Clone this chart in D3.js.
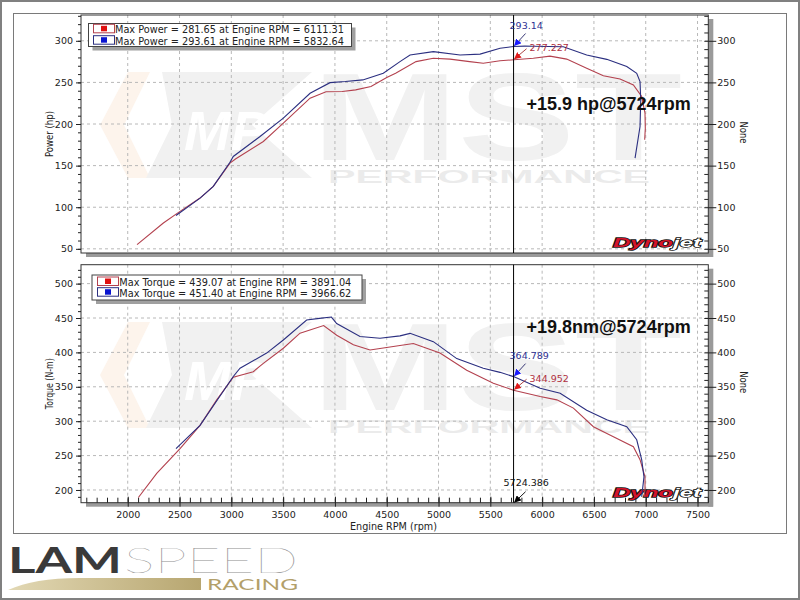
<!DOCTYPE html>
<html><head><meta charset="utf-8">
<script src="https://cdn.jsdelivr.net/npm/d3@7"></script>
<style>body{margin:0;background:#fff}svg{display:block}</style>
</head><body><svg id="c" width="800" height="600"></svg>
<script>
// ---------- data ----------
const rpmTicks = [2000,2500,3000,3500,4000,4500,5000,5500,6000,6500,7000,7500];
const powerTicks = [50,100,150,200,250,300];
const torqueTicks = [200,250,300,350,400,450,500];

const powerRun1 = [[2090,55],[2344,81],[2505,95],[2698,111],[2826,125],[2987,153],[3040,158],[3309,179],[3502,201],[3760,231],[3914,238.8],[4071,239],[4200,241],[4348,245],[4500,256],[4586,261],[4783,275],[4950,279],[5111,278],[5300,275],[5432,273],[5594,276],[5729,277.2],[5915,279],[6076,281.6],[6237,278],[6430,267],[6591,258],[6752,254],[6881,247],[6961,233],[6993,213],[6996,195],[6990,181]];
const powerRun2 = [[2466,90],[2698,111],[2826,125],[2987,154],[3019,161],[3277,185],[3502,207],[3760,237],[3953,249.7],[4100,251],[4269,253],[4467,261],[4628,275],[4725,283],[4950,287],[5208,283],[5401,284],[5594,291],[5724,293.1],[5832,293.6],[5915,293.5],[6205,292.8],[6430,283],[6624,277.7],[6817,269],[6913,261],[6945,251],[6952,229],[6945,197],[6897,159]];
const torqueRun1 = [[2103,189],[2280,224],[2505,260],[2698,294],[2859,331],[3019,364],[3212,372],[3309,384],[3502,406],[3663,428],[3891,439.1],[4017,425],[4178,411],[4339,403.5],[4628,410],[4757,413],[5014,399],[5272,374],[5529,355],[5724,345],[5981,336],[6142,331],[6302,319],[6495,292],[6688,277.5],[6881,263],[6945,244],[6993,219],[6993,200],[6985,190]];
const torqueRun2 = [[2466,260],[2698,294],[3019,365],[3084,377],[3341,399],[3502,418],[3727,447],[3850,449.5],[3966,451.4],[4017,442],[4242,423],[4435,420.5],[4628,424],[4725,427.7],[4950,415.6],[5176,391],[5432,377],[5594,371],[5724,364.8],[5981,348],[6174,340.5],[6430,316],[6624,302],[6817,292],[6913,273],[6961,244],[6983,219],[6961,190]];

const powerLegend = ["Max Power = 281.65 at Engine RPM = 6111.31","Max Power = 293.61 at Engine RPM = 5832.64"];
const torqueLegend = ["Max Torque = 439.07 at Engine RPM = 3891.04","Max Torque = 451.40 at Engine RPM = 3966.62"];
const cursorRpm = 5724.386;
const powerCursor = [277.227, 293.14];   // run1, run2
const torqueCursor = [344.952, 364.789];
const powerGain = "+15.9 hp@5724rpm";
const torqueGain = "+19.8nm@5724rpm";

// ---------- styles / layout ----------
const runColors = ["#b3414e","#2b2f80"];
const swatchFill = ["#e01010","#0a14d0"];
const arrowHead = ["#e01a1a","#1a1aff"];
const FONT = "DejaVu Sans, Verdana, sans-serif";

const svg = d3.select("#c");
svg.append("rect").attr("x",1).attr("y",1).attr("width",798).attr("height",598).attr("fill","#fff").attr("stroke","#808080").attr("stroke-width",2);
svg.append("rect").attr("x",13.5).attr("y",13.5).attr("width",773).attr("height",520).attr("fill","none").attr("stroke","#7a7a7a");

const defs = svg.append("defs");
["r","b","k"].forEach((id,i)=>{
  defs.append("marker").attr("id","ah"+id).attr("viewBox","0 0 10 10").attr("refX",9).attr("refY",5)
    .attr("markerWidth",7).attr("markerHeight",7).attr("orient","auto").attr("markerUnits","userSpaceOnUse")
    .append("path").attr("d","M0,0 L10,5 L0,10 Z").attr("fill",[arrowHead[0],arrowHead[1],"#000"][i]);
});
const grad = defs.append("linearGradient").attr("id","gold").attr("x1","0").attr("x2","1");
grad.append("stop").attr("offset","0").attr("stop-color","#e2d8b4");
grad.append("stop").attr("offset","1").attr("stop-color","#b7a670");

const x = d3.scaleLinear().domain([1549,7604]).range([81,708.3]);

const panels = [
  {top:15, bottom:253, domain:[45,331], ticks:powerTicks, runs:[powerRun1,powerRun2], title:"Power (hp)", titleLen:46,
   legend:powerLegend, L:{x:88.5,y:23.5,w:263,h:23,sx:93,tx:115,tl:229,b0:33.3,rh:11.4},
   cursor:powerCursor, gain:powerGain, gainY:109.5, xAxis:false, wm:0},
  {top:264.7, bottom:502.7, domain:[181.5,527.5], ticks:torqueTicks, runs:[torqueRun1,torqueRun2], title:"Torque (N-m)", titleLen:51,
   legend:torqueLegend, L:{x:92,y:275,w:270,h:25,sx:97,tx:119.3,tl:232,b0:286,rh:10.7},
   cursor:torqueCursor, gain:torqueGain, gainY:332.7, xAxis:true, wm:250}
];

function watermark(g, oy){
  const w = g.append("g").attr("transform",`translate(0,${oy})`);
  w.append("polygon").attr("points","128,72 150,72 124,125 150,178 128,178 100,125").attr("fill","#fdf4ec");
  w.append("polygon").attr("points","162,72 312,72 252,125 312,178 146,178 172,125").attr("fill","#f1f1f1");
  w.append("text").attr("x",184).attr("y",150).text("MP").attr("font-family","Liberation Sans").attr("font-weight","bold")
    .attr("font-style","italic").attr("font-size",56).attr("fill","#fff");
  w.append("text").attr("x",312).attr("y",160).attr("textLength",370).attr("lengthAdjust","spacingAndGlyphs").text("MST")
    .attr("font-family","Liberation Sans").attr("font-weight","bold").attr("font-size",125).attr("fill","#f1f1f1");
  w.append("text").attr("x",328).attr("y",183).attr("textLength",322).attr("lengthAdjust","spacingAndGlyphs").text("PERFORMANCE")
    .attr("font-family","Liberation Sans").attr("font-weight","bold").attr("font-size",19).attr("fill","#ebebeb");
}

function dynojet(g, xx, yb){
  const t = g.append("text").attr("x",xx).attr("y",yb).attr("font-family","Liberation Sans").attr("font-weight","bold")
    .attr("font-style","italic").attr("font-size",13).attr("textLength",88).attr("lengthAdjust","spacingAndGlyphs")
    .attr("stroke","#111").attr("stroke-width",1.4).attr("paint-order","stroke");
  t.append("tspan").text("Dyno").attr("fill","#d4142a");
  t.append("tspan").text("jet").attr("fill","#ffffff");
}

panels.forEach(p => {
  const y = d3.scaleLinear().domain(p.domain).range([p.bottom, p.top]);
  const g = svg.append("g");
  watermark(g, p.wm);

  // grid
  g.append("g").selectAll("line").data(rpmTicks).join("line")
    .attr("x1",d=>x(d)).attr("x2",d=>x(d)).attr("y1",p.top).attr("y2",p.bottom)
    .attr("stroke","#b8b8b8").attr("stroke-dasharray","3,3");
  g.append("g").selectAll("line").data(p.ticks).join("line")
    .attr("x1",81).attr("x2",708.3).attr("y1",d=>y(d)).attr("y2",d=>y(d))
    .attr("stroke","#b8b8b8").attr("stroke-dasharray","3,3");

  // shadows + frame
  g.append("rect").attr("x",708.3).attr("y",p.top+4).attr("width",5).attr("height",p.bottom-p.top).attr("fill","#9a9a9a");
  g.append("rect").attr("x",86).attr("y",p.bottom).attr("width",627).attr("height",4).attr("fill","#9a9a9a");
  g.append("rect").attr("x",81).attr("y",p.top).attr("width",627.3).attr("height",p.bottom-p.top)
    .attr("fill","none").attr("stroke","#333").attr("stroke-width",1);

  dynojet(g, 613, p.bottom-6);

  // axes
  const minor = d3.range(Math.ceil(p.domain[0]/10)*10, p.domain[1], 10);
  const styleAxis = a => { a.select(".domain").remove(); a.selectAll("text").attr("font-family",FONT).attr("font-size","9.5px").attr("fill","#222"); a.selectAll("line").attr("stroke","#222"); };
  const fmt = d3.format("d");
  g.append("g").attr("transform","translate(81,0)").call(d3.axisLeft(y).tickValues(minor).tickSize(3).tickFormat("")).call(styleAxis);
  g.append("g").attr("transform","translate(81,0)").call(d3.axisLeft(y).tickValues(p.ticks).tickSize(5).tickPadding(3).tickFormat(fmt)).call(styleAxis);
  g.append("g").attr("transform","translate(708.3,0)").call(d3.axisRight(y).tickValues(minor).tickSize(-4).tickFormat("")).call(styleAxis);
  g.append("g").attr("transform","translate(708.3,0)").call(d3.axisRight(y).tickValues(p.ticks).tickSize(8).tickPadding(1).tickFormat(fmt)).call(styleAxis);
  if (p.xAxis){
    const minX = d3.range(1600, 7601, 100);
    g.append("g").attr("transform",`translate(0,${p.bottom})`).call(d3.axisBottom(x).tickValues(minX).tickSize(-5).tickFormat("")).call(styleAxis);
    g.append("g").attr("transform",`translate(0,${p.bottom})`).call(d3.axisBottom(x).tickValues(rpmTicks).tickSize(-6).tickFormat("")).call(styleAxis);
    g.append("g").attr("transform",`translate(0,${p.bottom})`).call(d3.axisBottom(x).tickValues(rpmTicks).tickSize(4).tickPadding(4.6).tickFormat(fmt)).call(styleAxis);
  }

  // titles
  const cy = (p.top+p.bottom)/2;
  g.append("text").attr("transform",`translate(53,${cy}) rotate(-90)`).attr("text-anchor","middle")
    .attr("font-family",FONT).attr("font-size","10px").attr("fill","#222")
    .attr("textLength",p.titleLen).attr("lengthAdjust","spacingAndGlyphs").text(p.title);
  g.append("text").attr("transform",`translate(740,${cy-1.5}) rotate(90)`).attr("text-anchor","middle")
    .attr("font-family",FONT).attr("font-size","10px").attr("fill","#222")
    .attr("textLength",22).attr("lengthAdjust","spacingAndGlyphs").text("None");

  // curves
  const line = d3.line().x(d=>x(d[0])).y(d=>y(d[1]));
  p.runs.forEach((r,i)=>{
    g.append("path").datum(r).attr("d",line).attr("fill","none").attr("stroke",runColors[i]).attr("stroke-width",1.1);
  });

  // cursor
  const cx = x(cursorRpm);
  g.append("line").attr("x1",cx).attr("x2",cx).attr("y1",p.top).attr("y2",p.bottom).attr("stroke","#000").attr("stroke-width",1);

  // cursor annotations
  const labColors = ["#b03040","#2e3192"];
  p.cursor.forEach((v,i)=>{
    const py = y(v);
    if (i===1){
      g.append("line").attr("x1",cx+12).attr("y1",py-13).attr("x2",cx+1).attr("y2",py-1)
        .attr("stroke","#222266").attr("stroke-width",0.9).attr("marker-end","url(#ahb)");
      g.append("text").attr("x",cx-4).attr("y",py-17.2).text(String(v))
        .attr("font-family",FONT).attr("font-size","9.5px").attr("fill",labColors[i]);
    } else {
      g.append("line").attr("x1",cx+13).attr("y1",py-11).attr("x2",cx+1).attr("y2",py-1)
        .attr("stroke","#a03030").attr("stroke-width",0.9).attr("marker-end","url(#ahr)");
      g.append("text").attr("x",cx+16).attr("y",py-8.7).text(String(v))
        .attr("font-family",FONT).attr("font-size","9.5px").attr("fill",labColors[i]);
    }
  });
  if (p.xAxis){
    g.append("line").attr("x1",cx+12).attr("y1",p.bottom-11).attr("x2",cx+1).attr("y2",p.bottom-0.5)
      .attr("stroke","#000").attr("stroke-width",0.9).attr("marker-end","url(#ahk)");
    g.append("text").attr("x",cx-10).attr("y",p.bottom-16.7).text(String(cursorRpm))
      .attr("font-family",FONT).attr("font-size","9.5px").attr("fill","#111");
  }

  // gain
  g.append("text").attr("x",526.5).attr("y",p.gainY).text(p.gain)
    .attr("font-family","Liberation Sans, Arial, sans-serif").attr("font-weight","bold").attr("font-size","18px").attr("fill","#111");

  // legend
  const L = p.L;
  g.append("rect").attr("x",L.x+4).attr("y",L.y+4).attr("width",L.w).attr("height",L.h).attr("fill","#a0a0a0");
  g.append("rect").attr("x",L.x).attr("y",L.y).attr("width",L.w).attr("height",L.h).attr("fill","#fff").attr("stroke","#444");
  p.legend.forEach((t,i)=>{
    const yb = L.b0 + i*L.rh;
    g.append("rect").attr("x",L.sx+0.5).attr("y",yb-9).attr("width",21).attr("height",8.5).attr("fill","#fff").attr("stroke",runColors[i]);
    g.append("rect").attr("x",L.sx+8).attr("y",yb-7.5).attr("width",6).attr("height",5.5).attr("fill",swatchFill[i]);
    g.append("text").attr("x",L.tx).attr("y",yb).text(t).attr("font-family",FONT).attr("font-size","10.5px").attr("fill","#222")
      .attr("textLength",L.tl).attr("lengthAdjust","spacingAndGlyphs");
  });
});

// x axis title
svg.append("text").attr("x",393.5).attr("y",529.5).attr("text-anchor","middle").text("Engine RPM (rpm)")
  .attr("font-family",FONT).attr("font-size","10px").attr("fill","#222").attr("textLength",87).attr("lengthAdjust","spacingAndGlyphs");

// LAMSPEED RACING logo
const logo = svg.append("g");
logo.append("text").attr("x",8).attr("y",573).text("LAM").attr("font-family","Lato, Liberation Sans").attr("font-weight","bold")
  .attr("font-size",36).attr("fill","#3a3a3a").attr("textLength",114).attr("lengthAdjust","spacingAndGlyphs");
logo.append("text").attr("x",124).attr("y",573).text("SPEED").attr("font-family","Lato, Liberation Sans").attr("font-weight",200)
  .attr("font-size",36).attr("fill","#8e8e8e").attr("textLength",174).attr("lengthAdjust","spacingAndGlyphs");
logo.append("path").attr("d","M8,590 C26,582 48,578 80,578 L201,578 L201,590 Z").attr("fill","url(#gold)");
logo.append("text").attr("x",207).attr("y",589.5).text("RACING").attr("font-family","Lato, Liberation Sans")
  .attr("font-size",16).attr("fill","#b3a06a").attr("textLength",91).attr("lengthAdjust","spacingAndGlyphs");
</script></body></html>
